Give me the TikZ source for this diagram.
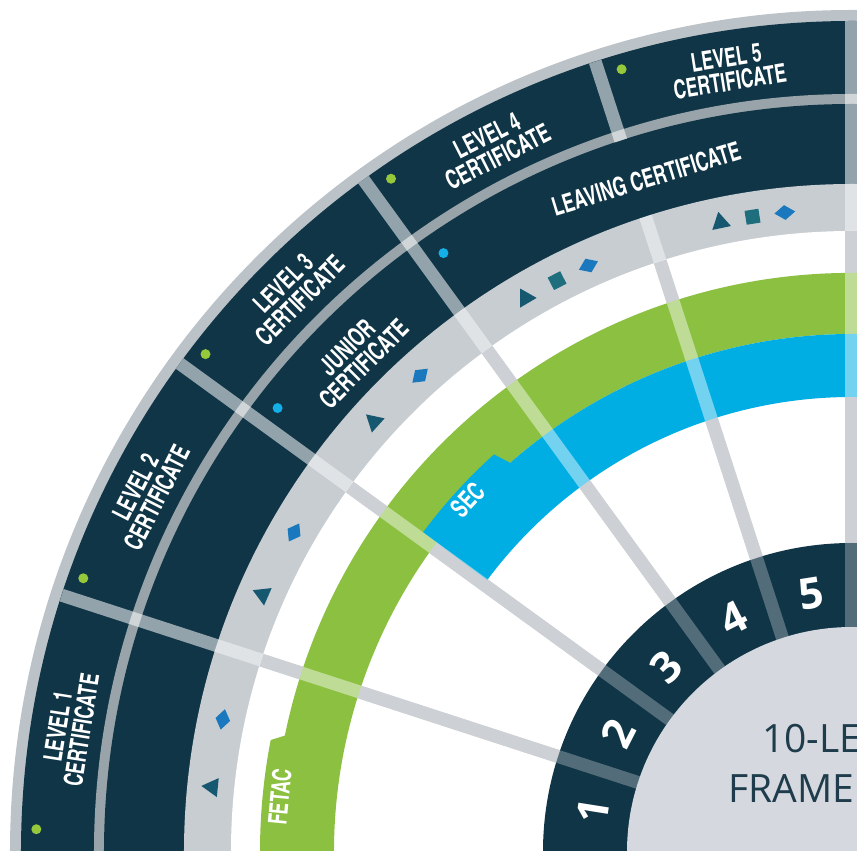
\documentclass[tikz,border=0pt]{standalone}
\usepackage{fontspec}
\usetikzlibrary{shapes.geometric}
\setmainfont{Open Sans}
\newfontfamily\condfont{texgyreheroscn-bold.otf}[FakeStretch=0.82]
\definecolor{navy}{RGB}{16,53,70}
\definecolor{bordergray}{RGB}{188,195,200}
\definecolor{sepgray}{RGB}{152,164,170}
\definecolor{bandgray}{RGB}{200,205,210}
\definecolor{discgray}{RGB}{213,217,223}
\definecolor{greenc}{RGB}{140,192,65}
\definecolor{bluec}{RGB}{0,174,228}
\definecolor{spokegray}{RGB}{165,170,178}
\definecolor{dotgreen}{RGB}{150,200,60}
\definecolor{dotblue}{RGB}{20,175,230}
\definecolor{tricol}{RGB}{22,88,112}
\definecolor{sqcol}{RGB}{30,110,125}
\definecolor{diacol}{RGB}{25,120,190}
\definecolor{textnavy}{RGB}{30,60,75}
\tikzset{
  lvl/.style={font=\condfont\fontsize{26}{24}\selectfont, text=white, align=center, inner sep=0pt},
  num/.style={font=\fontsize{43}{43}\selectfont\bfseries, text=white, inner sep=0pt},
  gdot/.style={circle, fill=dotgreen, minimum size=10pt, inner sep=0pt},
  bdot/.style={circle, fill=dotblue, minimum size=10pt, inner sep=0pt},
  trisym/.style={regular polygon, regular polygon sides=3, fill=tricol, minimum size=22pt, inner sep=0pt},
  sqsym/.style={rectangle, fill=sqcol, minimum size=14pt, inner sep=0pt},
  diasym/.style={diamond, fill=diacol, minimum width=21pt, minimum height=15pt, inner sep=0pt},
  spokeline/.style={line width=13pt},
  centertext/.style={anchor=base west, inner sep=0pt, font=\fontsize{39}{39}\selectfont, text=textnavy},
}
\begin{document}
\begin{tikzpicture}
\useasboundingbox (-852pt,1pt) rectangle (5pt,852pt);
\clip (-852pt,1pt) rectangle (5pt,852pt);
\fill[white] (-852pt,1pt) rectangle (5pt,852pt);
% outer rings
\fill[bordergray] (0,0) circle[radius=842pt];
\fill[navy] (0,0) circle[radius=831pt];
\fill[sepgray] (0,0) circle[radius=758pt];
\fill[navy] (0,0) circle[radius=748pt];
\fill[bandgray] (0,0) circle[radius=668pt];
\fill[white] (0,0) circle[radius=621pt];
% spoke underlay
\foreach \a in {162,144,126,108,90} {
  \draw[spokeline, spokegray] (\a:300pt) -- (\a:621pt);
}
% green band (FETAC) with tab
\fill[greenc] (190:518pt) arc[start angle=190, end angle=80, radius=518pt]
  -- (80:579pt) arc[start angle=80, end angle=168.4, radius=579pt]
  -- (169.1:592pt) arc[start angle=169.1, end angle=190, radius=592pt] -- cycle;
% blue band (SEC) with tab
\fill[bluec] (143.3:455pt) arc[start angle=143.3, end angle=80, radius=455pt]
  -- (80:518pt) arc[start angle=80, end angle=131.3, radius=518pt]
  -- (132:535pt) arc[start angle=132, end angle=143.3, radius=535pt] -- cycle;
% number ring and disc
\fill[navy] (0,0) circle[radius=309pt];
\fill[discgray] (0,0) circle[radius=225pt];
% spoke overlays
\foreach \a in {162,144,126,108,90} {
  \draw[spokeline, white, opacity=0.28] (\a:225pt) -- (\a:309pt);
  \draw[spokeline, white, opacity=0.45] (\a:309pt) -- (\a:668pt);
}
\foreach \a in {162,144,126,90} {
  \draw[spokeline, white, opacity=0.55] (\a:668pt) -- (\a:831pt);
}
\draw[spokeline, white, opacity=0.55] (108:748pt) -- (108:831pt);
% green dots (outer ring)
\foreach \a/\n in {178.4/1,160.4/2,142.4/3,124.4/4,106.4/5} {
  \node[gdot] (gd\n) at (\a:816pt) {};
}
% blue dots (inner ring)
\node[bdot] (bd1) at (142.3:726pt) {};
\node[bdot] (bd2) at (124.3:725pt) {};
% symbols
\node[trisym, rotate=84.2] (s1a) at (174.2:643pt) {};
\node[diasym, rotate=78.1] (s1b) at (168.1:643pt) {};
\node[trisym, rotate=66.4] (s2a) at (156.4:643pt) {};
\node[diasym, rotate=60.2] (s2b) at (150.2:643pt) {};
\node[trisym, rotate=48] (s3a) at (138:643pt) {};
\node[diasym, rotate=42.2] (s3b) at (132.2:643pt) {};
\node[trisym, rotate=30.5] (s4a) at (120.5:643pt) {};
\node[sqsym, rotate=27.3] (s4b) at (117.3:643pt) {};
\node[diasym, rotate=24.2] (s4c) at (114.2:643pt) {};
\node[trisym, rotate=11.8] (s5a) at (101.8:643pt) {};
\node[sqsym, rotate=8.9] (s5b) at (98.9:643pt) {};
\node[diasym, rotate=6] (s5c) at (96:643pt) {};
% outer labels
\node[lvl, rotate=81] (l1) at (171:792pt) {LEVEL 1\\CERTIFICATE};
\node[lvl, rotate=63] (l2) at (153:792pt) {LEVEL 2\\CERTIFICATE};
\node[lvl, rotate=45] (l3) at (135:792pt) {LEVEL 3\\CERTIFICATE};
\node[lvl, rotate=27] (l4) at (117:792pt) {LEVEL 4\\CERTIFICATE};
\node[lvl, rotate=9] (l5) at (99:792pt) {LEVEL 5\\CERTIFICATE};
% inner ring labels
\node[lvl, rotate=45] (jc) at (135:702pt) {JUNIOR\\CERTIFICATE};
\node[lvl, rotate=17] (lc) at (107:704pt) {LEAVING CERTIFICATE};
% tab labels
\node[lvl, rotate=84.5] (fetac) at (174.5:575pt) {FETAC};
\node[lvl, rotate=47.5] (sec) at (137.5:521pt) {SEC};
% numbers
\node[num, rotate=81] (n1) at (171:262pt) {1};
\node[num, rotate=63] (n2) at (153:262pt) {2};
\node[num, rotate=45] (n3) at (135:262pt) {3};
\node[num, rotate=27] (n4) at (117:262pt) {4};
\node[num, rotate=9] (n5) at (99:262pt) {5};
% centre text
\node[centertext] (t1) at (-90pt,99pt) {10-LE};
\node[centertext] (t2) at (-124pt,49pt) {FRAME};
\end{tikzpicture}
\end{document}
